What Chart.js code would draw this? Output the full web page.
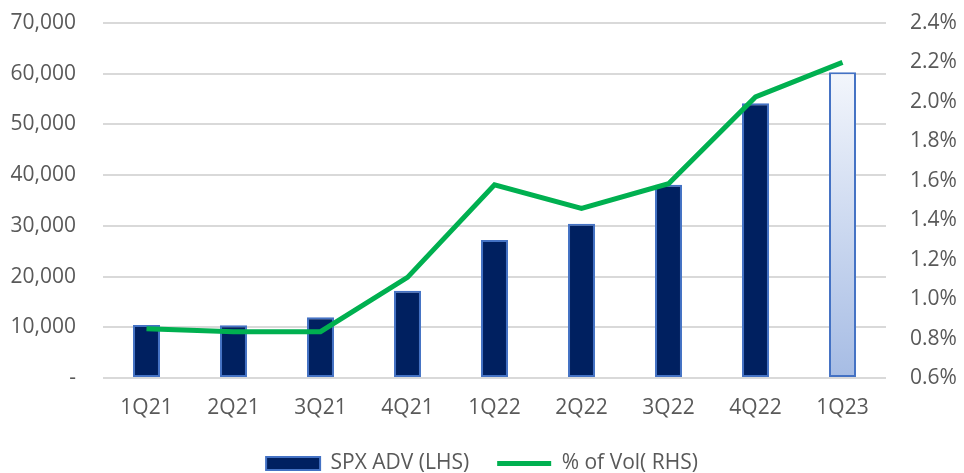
<!DOCTYPE html>
<html>
<head>
<meta charset="utf-8">
<script src="https://cdn.jsdelivr.net/npm/chart.js@4.4.0/dist/chart.umd.min.js"></script>
<style>
  html, body { margin: 0; padding: 0; background: #fff; }
  #wrap { width: 964px; height: 473px; }
</style>
</head>
<body>
<div id="wrap"><canvas id="grafico" width="964" height="473"></canvas></div>
<script>
const trimestres = ['1Q21', '2Q21', '3Q21', '4Q21', '1Q22', '2Q22', '3Q22', '4Q22', '1Q23'];
const spxAdv = [10450, 10400, 12000, 17200, 27200, 30400, 38100, 54200, 60300];
const pctVol = [0.85, 0.835, 0.835, 1.11, 1.58, 1.46, 1.585, 2.025, 2.2];
const ticksEsq = [0, 10000, 20000, 30000, 40000, 50000, 60000, 70000];
const ticksDir = [0.6, 0.8, 1.0, 1.2, 1.4, 1.6, 1.8, 2.0, 2.2, 2.4];

const corTexto = '#595959';
const fonte = { family: "'Open Sans', 'Liberation Sans', sans-serif", size: 21 };

function corBarra(c) {
    if (c.type !== 'data' || c.dataIndex !== trimestres.length - 1) return '#002060';
    const area = c.chart.chartArea;
    const escala = c.chart.scales.yEsq;
    if (!area || !escala) return '#A6BCE4';
    let topo = escala.getPixelForValue(spxAdv[c.dataIndex]);
    if (!isFinite(topo) || !isFinite(area.bottom)) return '#A6BCE4';
    const g = c.chart.ctx.createLinearGradient(0, topo, 0, area.bottom);
    g.addColorStop(0, '#F3F6FC');
    g.addColorStop(1, '#A6BCE4');
    return g;
}

// deixa a legenda com altura fixa
const alturaLegenda = {
    id: 'alturaLegenda',
    afterInit(chart) {
        const lg = chart.legend;
        if (!lg) return;
        const fitOriginal = lg.fit.bind(lg);
        lg.fit = function () {
            fitOriginal();
            this.height = 48;
        };
    }
};

function ajustaEixoY(largura) {
    return (eixo) => {
        eixo.width = largura;
        eixo.paddingTop = 0;
        eixo.paddingBottom = 0;
    };
}

const ctx = document.getElementById('grafico').getContext('2d');
window.chart = new Chart(ctx, {
    type: 'bar',
    data: {
        labels: trimestres,
        datasets: [{
            type: 'bar',
            label: 'SPX ADV (LHS)',
            data: spxAdv,
            yAxisID: 'yEsq',
            backgroundColor: corBarra,
            borderColor: '#4472C4',
            borderWidth: 2,
            borderSkipped: false,
            categoryPercentage: 1,
            barPercentage: 0.31,
            order: 2
        }, {
            type: 'line',
            label: '% of Vol( RHS)',
            data: pctVol,
            yAxisID: 'yDir',
            borderColor: '#00B050',
            backgroundColor: '#00B050',
            borderWidth: 5,
            pointRadius: 0,
            tension: 0,
            order: 1
        }]
    },
    plugins: [alturaLegenda],
    options: {
        responsive: false,
        animation: false,
        layout: { padding: { top: 23, bottom: 0 } },
        scales: {
            x: {
                grid: { display: false, drawTicks: false },
                border: { display: false },
                ticks: { color: corTexto, font: fonte, padding: 17 },
                afterFit: (eixo) => { eixo.height = 47; }
            },
            yEsq: {
                position: 'left',
                min: 0, max: 70000,
                afterBuildTicks: (eixo) => { eixo.ticks = ticksEsq.map(v => ({ value: v })); },
                afterFit: ajustaEixoY(103),
                grid: { color: '#D9D9D9', lineWidth: 2, drawTicks: false },
                border: { display: false },
                ticks: {
                    color: corTexto, font: fonte, padding: 27,
                    callback: (v) => v === 0 ? '-' : v.toLocaleString('en-US')
                }
            },
            yDir: {
                position: 'right',
                min: 0.6, max: 2.4,
                afterBuildTicks: (eixo) => { eixo.ticks = ticksDir.map(v => ({ value: v })); },
                afterFit: ajustaEixoY(78),
                grid: { display: false, drawTicks: false },
                border: { display: false },
                ticks: {
                    color: corTexto, font: fonte, padding: 24,
                    callback: (v) => v.toFixed(1) + '%'
                }
            }
        },
        plugins: {
            tooltip: { enabled: false },
            legend: {
                position: 'bottom',
                labels: {
                    color: corTexto,
                    font: fonte,
                    usePointStyle: true,
                    pointStyleWidth: 54,
                    boxHeight: 13,
                    padding: 28,
                    generateLabels: (chart) => [{
                        text: 'SPX ADV (LHS)',
                        fillStyle: '#002060',
                        strokeStyle: '#4472C4',
                        lineWidth: 2,
                        pointStyle: 'rect',
                        fontColor: corTexto,
                        datasetIndex: 0
                    }, {
                        text: '% of Vol( RHS)',
                        fillStyle: '#00B050',
                        strokeStyle: '#00B050',
                        lineWidth: 5,
                        pointStyle: 'line',
                        fontColor: corTexto,
                        datasetIndex: 1
                    }]
                }
            }
        }
    }
});
</script>
</body>
</html>
